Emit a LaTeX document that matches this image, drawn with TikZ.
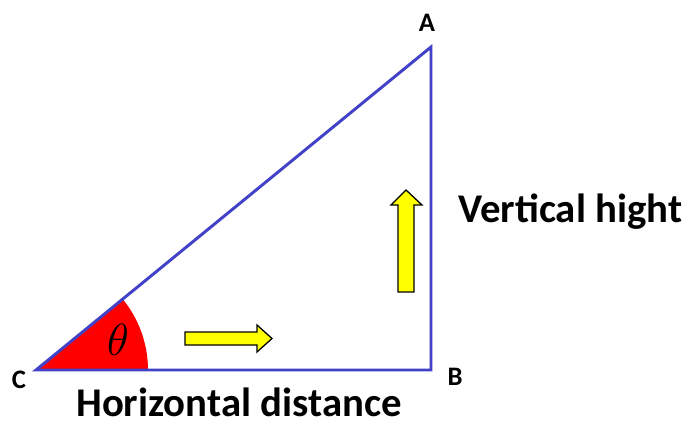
\RequirePackage{fix-cm}
\documentclass[tikz,border=0pt]{standalone}
\usepackage{fontspec}
\newfontfamily\calib{Carlito}
\usepackage{tikz}
\usetikzlibrary{calc}
\definecolor{triblue}{HTML}{4242C8}
\definecolor{angred}{HTML}{FF0000}
\definecolor{dirfill}{HTML}{FFFF00}
\tikzset{
  side/.style    = {draw=triblue, line width=2.1pt, line join=miter},
  vlabel/.style  = {font=\calib\bfseries\fontsize{19}{21}\selectfont, inner sep=0pt, anchor=base},
  qlabel/.style  = {font=\calib\bfseries\fontsize{29}{31}\selectfont, inner sep=0pt, anchor=base west},
  dirarrow/.style= {fill=dirfill, draw=black, line width=0.9pt, line join=miter},
}

\begin{document}
\begin{tikzpicture}[x=0.025cm,y=0.025cm]
\useasboundingbox (0,0) rectangle (700,423);
% ---- vertices ----
\coordinate (C) at (36,53);
\coordinate (B) at (431,53);
\coordinate (A) at (431,376);
% ---- angle at C ----
\fill[angred] (C) -- ++(0:112) arc[start angle=0, end angle=39.3, radius=112] -- cycle;
\node[font=\fontsize{32}{34}\selectfont, inner sep=0pt] (th) at (118,83) {$\theta$};
% ---- triangle ----
\draw[side] (C) -- (B) -- (A) -- cycle;
% ---- vertex labels ----
\node[vlabel] (labA) at (427,391) {A};
\node[vlabel] (labB) at (455,38) {B};
\node[vlabel] (labC) at (19,35) {C};
% ---- direction arrows ----
\draw[dirarrow] (185,78) -- (257,78) -- (257,71) -- (272,84.5) -- (257,98) -- (257,91) -- (185,91) -- cycle;
\draw[dirarrow] (398,131) -- (398,218) -- (391,218) -- (406,233) -- (422,218) -- (414,218) -- (414,131) -- cycle;
% ---- side names ----
\node[qlabel] (vert) at (458,200) {Vertical hight};
\node[qlabel] (horiz) at (76,6.5) {Horizontal distance};
\end{tikzpicture}
\end{document}
